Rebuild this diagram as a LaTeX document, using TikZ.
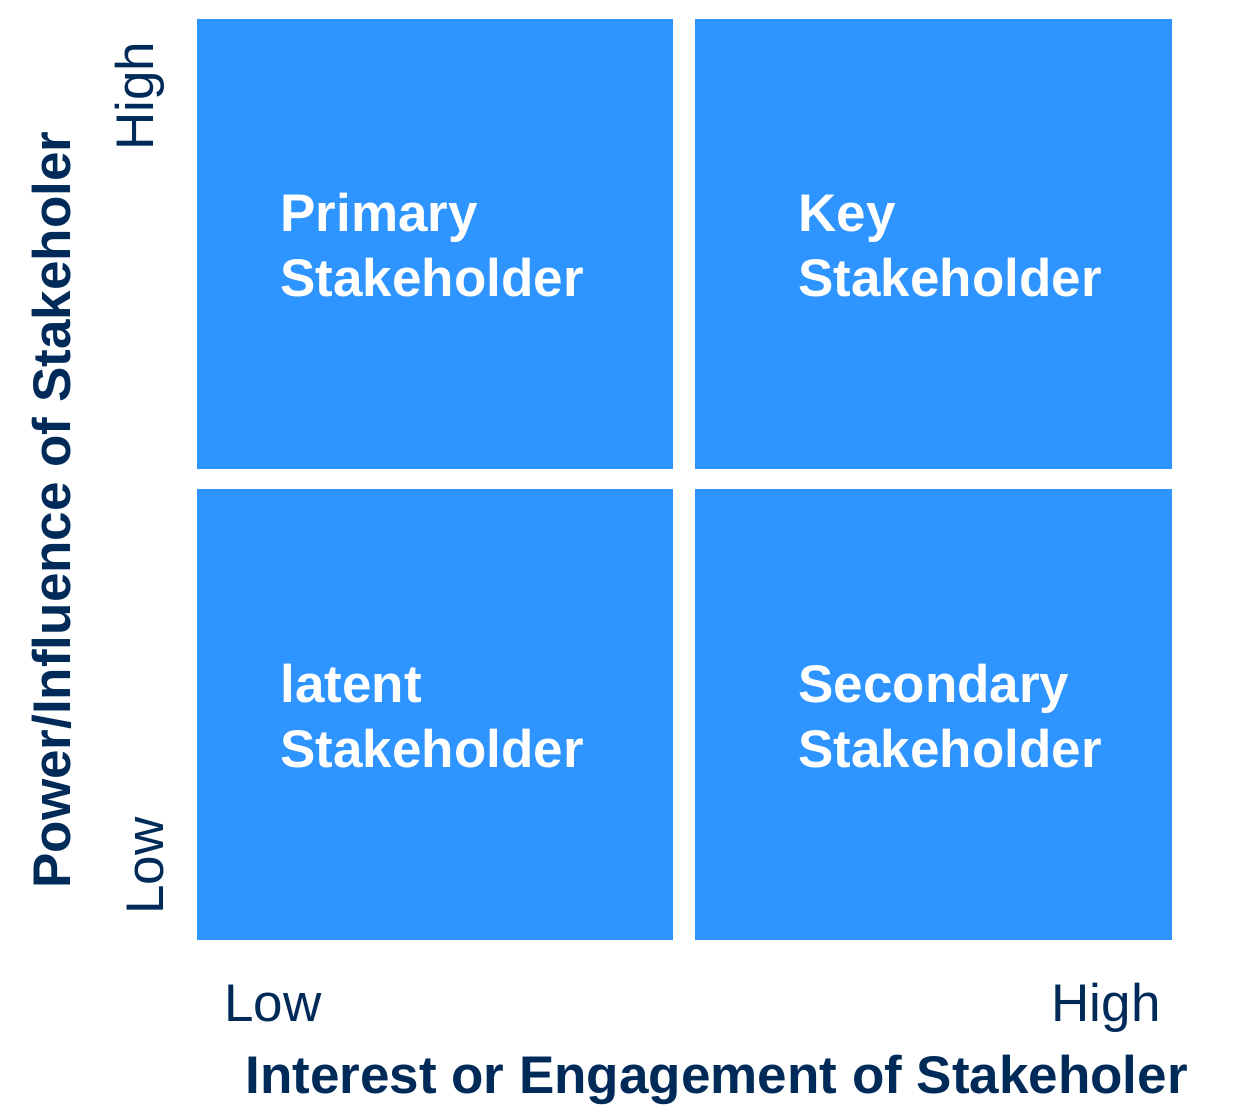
\documentclass[tikz,border=0pt]{standalone}
\usepackage{fontspec}
\setmainfont{Liberation Sans}
\definecolor{quadblue}{RGB}{46,148,255}
\definecolor{navy}{RGB}{0,43,89}
\begin{document}
\begin{tikzpicture}[x=0.5pt,y=-0.5pt,
  quad/.style={fill=quadblue},
  quadtext/.style={anchor=base west,inner sep=0pt,text=white,align=left,
    font=\fontsize{26.5}{32.5}\selectfont\bfseries},
  axistitle/.style={inner sep=0pt,text=navy,font=\fontsize{26.5}{32}\selectfont\bfseries},
  axislevel/.style={inner sep=0pt,text=navy,font=\fontsize{26.5}{32}\selectfont}]
\useasboundingbox (0,0) rectangle (1241,1117);

% four quadrants
\fill[quad] (197,19) rectangle (673,469);
\fill[quad] (695,19) rectangle (1172,469);
\fill[quad] (197,489) rectangle (673,940);
\fill[quad] (695,489) rectangle (1172,940);

% quadrant labels (anchored on the baseline of the last line)
\node[quadtext] (primary) at (280,297) {Primary\\Stakeholder};
\node[quadtext] (key) at (798,297) {Key\\Stakeholder};
\node[quadtext] (latent) at (280,767) {latent\\Stakeholder};
\node[quadtext] (secondary) at (798,767) {Secondary\\Stakeholder};

% horizontal axis
\node[axislevel,anchor=base west] (xlow) at (224,1021) {Low};
\node[axislevel,anchor=base east] (xhigh) at (1161,1021) {High};
\node[axistitle,anchor=base west] (xtitle) at (245,1093) {Interest or Engagement of Stakeholer};

% vertical axis
\node[axislevel,anchor=base west,rotate=90] (ylow) at (163,915) {Low};
\node[axislevel,anchor=base west,rotate=90] (yhigh) at (153,151) {High};
\node[axistitle,anchor=base west,rotate=90] (ytitle) at (70,889) {Power/Influence of Stakeholer};
\end{tikzpicture}
\end{document}
